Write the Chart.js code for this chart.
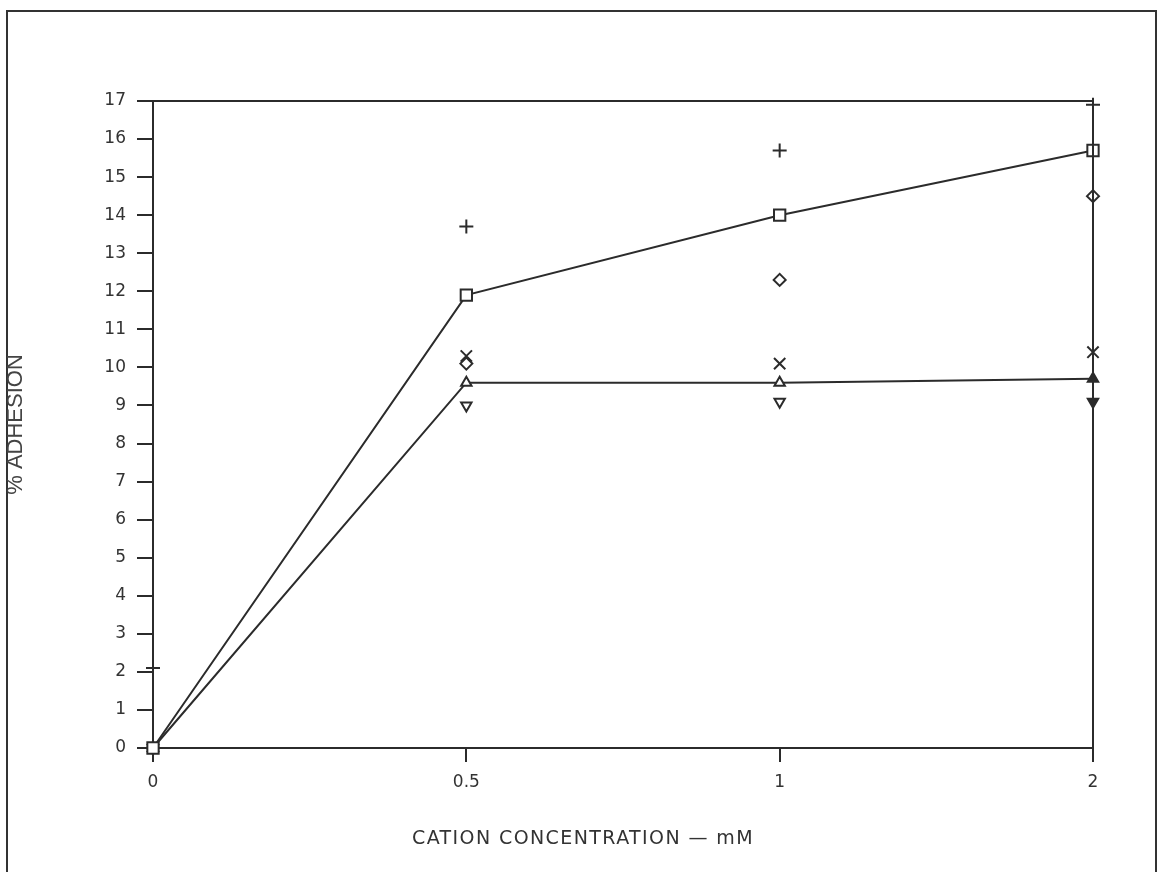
<!DOCTYPE html>
<html>
<head>
<meta charset="utf-8">
<script src="https://cdn.jsdelivr.net/npm/chart.js@4.4.1/dist/chart.umd.min.js"></script>
<style>
  html, body { margin: 0; padding: 0; background: #fff; }
  body { width: 1161px; height: 872px; position: relative; overflow: hidden; }
  #frame { position: absolute; left: 6px; top: 10px; width: 1147px; height: 900px;
           border: 2px solid #333; border-bottom: none; }
  #adhesionChart { position: absolute; left: 0; top: 0; }
  #xTitle { position: absolute; left: 383px; width: 400px; top: 826px; text-align: center;
            font: 19px "DejaVu Sans", sans-serif; letter-spacing: 1.4px; color: #333; white-space: nowrap; }
</style>
</head>
<body>
<div id="frame"></div>
<canvas id="adhesionChart" width="1161" height="872"></canvas>
<div id="xTitle"></div>
<script>
const concentrations = ['0', '0.5', '1', '2'];
const xAxisTitle = 'CATION CONCENTRATION \u2014 mM';
const yAxisTitle = '% ADHESION';

const plusValues    = [2.1, 13.7, 15.7, 16.9];
const squareValues  = [0, 11.9, 14.0, 15.7];
const diamondValues = [0, 10.1, 12.3, 14.5];
const crossValues   = [0, 10.3, 10.1, 10.4];
const triUpValues   = [0, 9.6, 9.6, 9.7];
const triDownValues = [0, 9.0, 9.1, 9.1];

const yTicks = [0, 17];

const INK = '#2b2b2b';

function series(label, data, style, opts) {
    return Object.assign({
        label: label,
        data: data,
        showLine: false,
        borderColor: INK,
        backgroundColor: '#fff',
        borderWidth: 2,
        pointStyle: style,
        pointRadius: 6,
        pointBorderWidth: 2,
        pointBorderColor: INK,
        pointBackgroundColor: '#fff',
        clip: false
    }, opts || {});
}

// draws the top and right sides of the plot box
const plotBox = {
    id: 'plotBox',
    afterDraw(chart) {
        const { ctx, chartArea: a } = chart;
        ctx.save();
        ctx.strokeStyle = INK;
        ctx.lineWidth = 2;
        ctx.beginPath();
        ctx.moveTo(a.left, a.top);
        ctx.lineTo(a.right, a.top);
        ctx.lineTo(a.right, a.bottom + 14);
        ctx.stroke();
        ctx.restore();
    }
};

document.getElementById('xTitle').textContent = xAxisTitle;

const ctx = document.getElementById('adhesionChart').getContext('2d');
new Chart(ctx, {
    type: 'line',
    data: {
        labels: concentrations,
        datasets: [
            series('+', plusValues, 'cross', { pointRadius: 7 }),
            series('square', squareValues, 'rect', { showLine: true, pointRadius: 8 }),
            series('diamond', diamondValues, 'rectRot', { pointRadius: 6 }),
            series('x', crossValues, 'crossRot', { pointRadius: 8 }),
            series('triangle', triUpValues, 'triangle', {
                showLine: true, pointRadius: 6,
                pointBackgroundColor: ['#fff', '#fff', '#fff', INK]
            }),
            series('inverted triangle', triDownValues, 'triangle', {
                pointRadius: 6, pointRotation: 180,
                pointBackgroundColor: ['#fff', '#fff', '#fff', INK]
            })
        ]
    },
    options: {
        responsive: false,
        animation: false,
        events: [],
        layout: { padding: { top: 101, right: 68, left: 0, bottom: 0 } },
        elements: { line: { tension: 0, borderWidth: 2 } },
        plugins: { legend: { display: false }, tooltip: { enabled: false } },
        scales: {
            x: {
                type: 'category',
                offset: false,
                afterFit: s => { s.height = 124; },
                grid: { drawOnChartArea: false, offset: false, tickLength: 14, color: INK, lineWidth: 2 },
                border: { color: INK, width: 2 },
                ticks: { color: '#333', padding: 10, font: { family: 'DejaVu Sans', size: 17 } }
            },
            y: {
                min: yTicks[0],
                max: yTicks[1],
                afterFit: s => { s.width = 153; },
                grid: { drawOnChartArea: false, tickLength: 16, color: INK, lineWidth: 2 },
                border: { color: INK, width: 2 },
                ticks: { stepSize: 1, color: '#333', padding: 11, font: { family: 'DejaVu Sans', size: 17 } },
                title: {
                    display: true,
                    text: yAxisTitle,
                    color: '#444',
                    font: { family: 'Liberation Sans', size: 22 },
                    padding: { top: 3, bottom: 0 }
                }
            }
        }
    },
    plugins: [plotBox]
});
</script>
</body>
</html>
